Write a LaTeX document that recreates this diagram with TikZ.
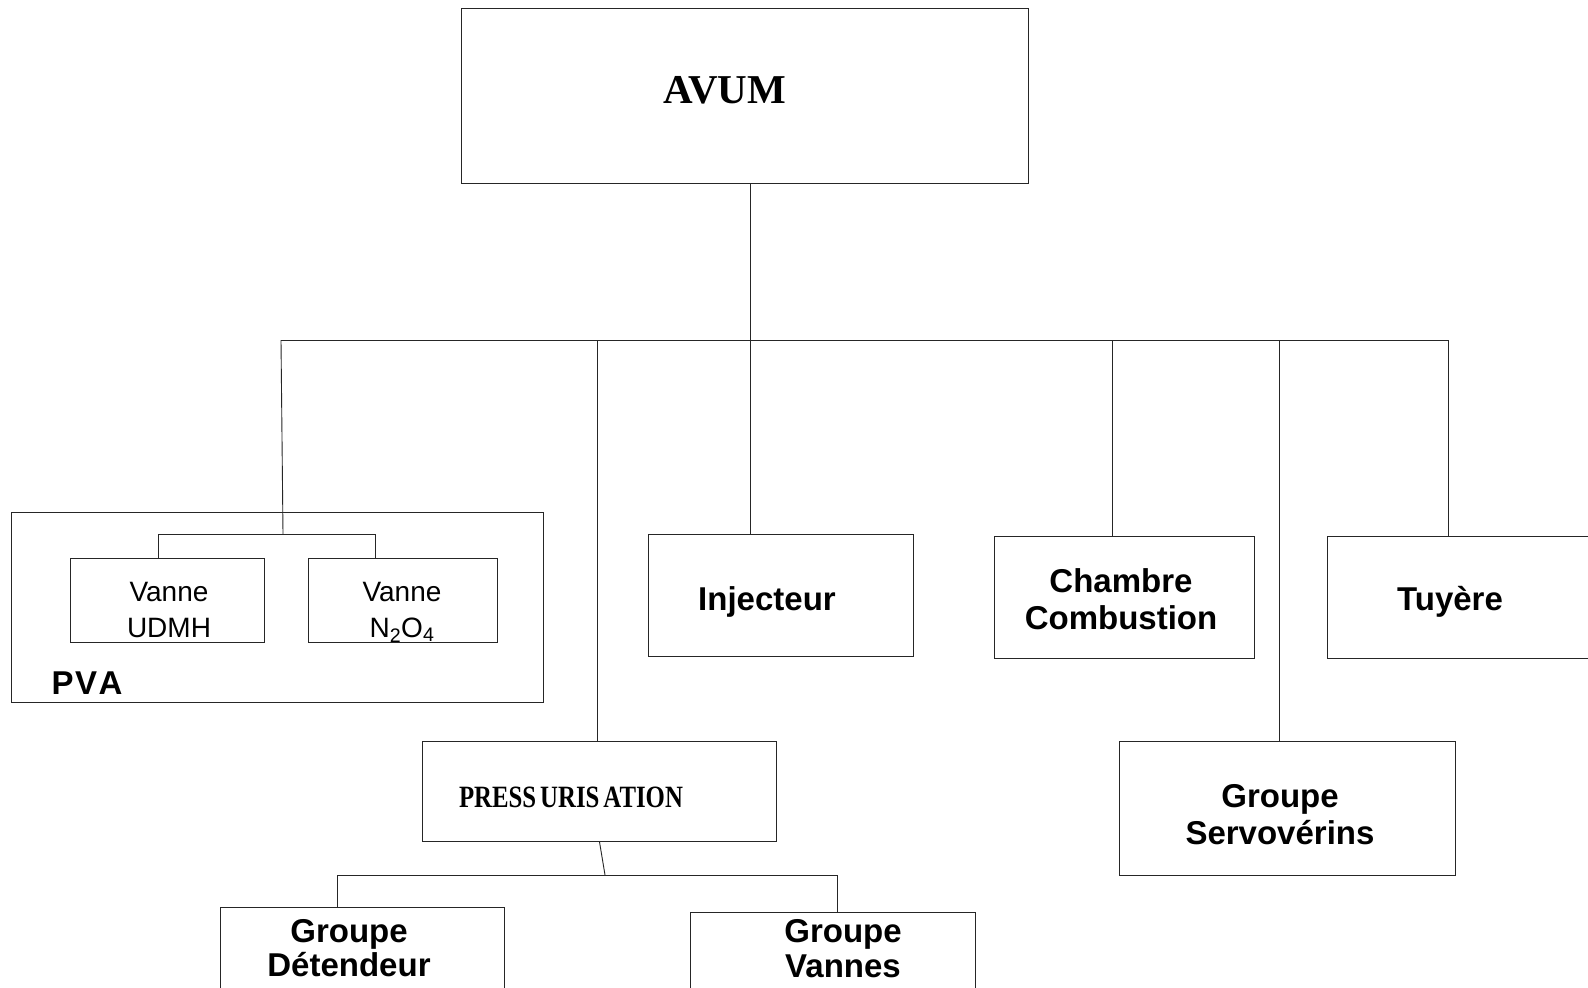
\documentclass[tikz,border=0pt]{standalone}
\usepackage{fontspec}
\usepackage{graphicx}
\setmainfont{Liberation Sans}
\newfontfamily\arialf{Liberation Sans}
\newfontfamily\tnrf{Liberation Serif}
\begin{document}
\begin{tikzpicture}[x=1pt,y=-1pt,
  box/.style={draw=black!85, line width=1.1pt, inner sep=0pt, anchor=north west, fill=none},
  conn/.style={draw=black!85, line width=0.9pt},
  bsans/.style={font=\arialf\bfseries\fontsize{33}{37}\selectfont, align=center, inner sep=0pt},
  rsans/.style={font=\arialf\fontsize{28}{36}\selectfont, align=center, inner sep=0pt},
]
\useasboundingbox (0,0) rectangle (1588,988);
\clip (0,0) rectangle (1588,988);
\fill[white] (0,0) rectangle (1588,988);

% boxes
\node[box, minimum width=567pt, minimum height=175pt] (avum) at (461,8) {};
\node[box, minimum width=532pt, minimum height=190pt] (pva) at (11,512) {};
\node[box, minimum width=194pt, minimum height=84pt] (vu) at (70,558) {};
\node[box, minimum width=189pt, minimum height=84pt] (vn) at (308,558) {};
\node[box, minimum width=265pt, minimum height=122pt] (inj) at (648,534) {};
\node[box, minimum width=260pt, minimum height=122pt] (ch) at (994,536) {};
\node[box, minimum width=280pt, minimum height=122pt] (tu) at (1327,536) {};
\node[box, minimum width=336pt, minimum height=134pt] (servo) at (1119,741) {};
\node[box, minimum width=354pt, minimum height=100pt] (press) at (422,741) {};
\node[box, minimum width=284pt, minimum height=120pt] (gd) at (220,907) {};
\node[box, minimum width=285pt, minimum height=120pt] (gv) at (690,912) {};

% texts
\node[inner sep=0pt, font=\tnrf\bfseries\fontsize{41}{45}\selectfont] (tavum) at (725,90) {AVUM};
\node[bsans] (tpva) at (87,683) {P\kern1.5ptV\kern1.5ptA};
\node[rsans] (tvu) at (169,610) {Vanne\\UDMH};
\node[rsans] (tvn) at (402,612) {Vanne\\N\textsubscript{2}O\textsubscript{4}};
\node[bsans] (tinj) at (767,602) {Injecteur};
\node[bsans] (tch) at (1121,599) {Chambre\\Combustion};
\node[bsans] (ttu) at (1450,602) {Tuyère};
\node[bsans] (tservo) at (1280,815) {Groupe\\Servovérins};
\node[inner sep=0pt, font=\tnrf\bfseries\fontsize{31}{35}\selectfont] (tpress) at (571,797) {\scalebox{0.8}[1]{PRESS\hspace{5pt}URIS\hspace{5pt}ATION}};
\node[bsans, font=\arialf\bfseries\fontsize{33}{34}\selectfont] (tgd) at (349,948) {Groupe\\Détendeur};
\node[bsans, font=\arialf\bfseries\fontsize{33}{35}\selectfont] (tgv) at (843,949) {Groupe\\Vannes};

% connector coordinates
\coordinate (a1) at ([xshift=5.5pt]avum.south);
\coordinate (busL) at (281,340);
\coordinate (busR) at (1448,340);
\coordinate (b2) at (597,340);
\coordinate (b4) at (1112,340);
\coordinate (b5) at (1279,340);
\coordinate (pvaM) at (283,534);
\coordinate (pvaL) at (158,534);
\coordinate (pvaR) at (375,534);
\coordinate (pm) at (605,875);
\coordinate (pl) at (337,875);
\coordinate (pr) at (837,875);

% connectors
\draw[conn] (a1) -- (a1 |- inj.north);
\draw[conn] (busL) -- (busR);
\draw[conn] (busL) -- (pvaM);
\draw[conn] (pvaL) -- (pvaR);
\draw[conn] (pvaL) -- (pvaL |- vu.north);
\draw[conn] (pvaR) -- (pvaR |- vn.north);
\draw[conn] (b2) -- (b2 |- press.north);
\draw[conn] (b4) -- (b4 |- ch.north);
\draw[conn] (b5) -- (b5 |- servo.north);
\draw[conn] (busR) -- (busR |- tu.north);
\draw[conn] (press.south) -- (pm);
\draw[conn] (pl) -- (pr);
\draw[conn] (pl) -- (pl |- gd.north);
\draw[conn] (pr) -- (pr |- gv.north);
\end{tikzpicture}
\end{document}
